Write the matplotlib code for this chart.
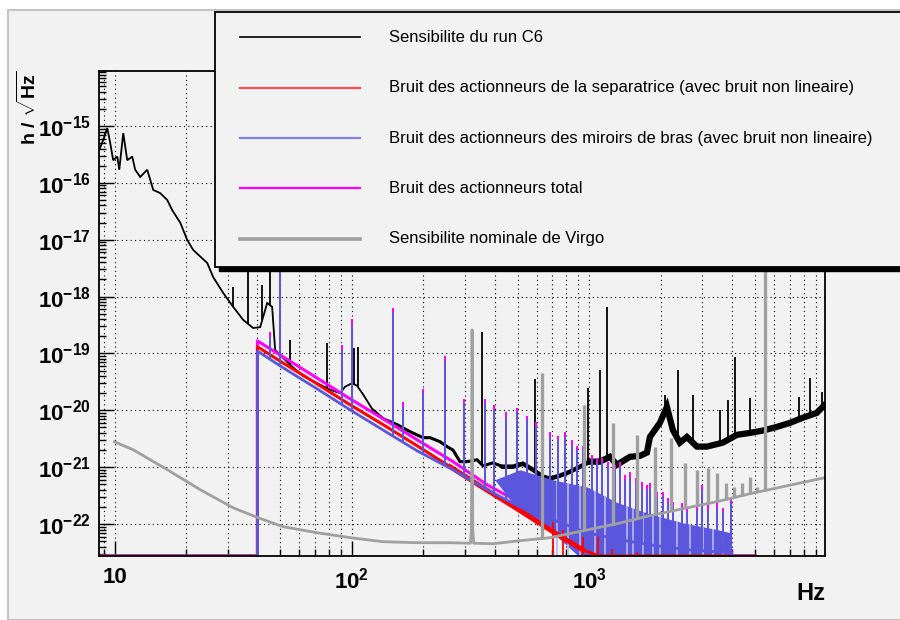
import numpy as np
import matplotlib
matplotlib.use('Agg')
import matplotlib.pyplot as plt
from matplotlib.patches import Rectangle
from matplotlib.lines import Line2D
from matplotlib.ticker import FixedLocator, LogLocator, NullFormatter

plt.rcParams['font.family'] = ['Liberation Sans', 'DejaVu Sans']
plt.rcParams['mathtext.fontset'] = 'custom'
plt.rcParams['mathtext.rm'] = 'Liberation Sans'
plt.rcParams['mathtext.bf'] = 'Liberation Sans:bold'
plt.rcParams['mathtext.it'] = 'Liberation Sans:italic'

# ---- donnees ----
# sensibilite du run C6 (noir)
c6_freq = [8.62, 8.96, 9.32, 9.59, 9.87, 10.27, 10.47, 10.88, 11.31, 11.87,
           12.22, 12.83, 13.73, 14.56, 15.57, 16.67, 17.50, 18.91, 20.24, 21.45,
           24.57, 26.04, 28.69, 31.61, 34.83, 38.37, 41.08, 42.29, 43.96, 46.13,
           47.49, 49.85, 54.93, 62.30, 71.38, 80.93, 89.19, 93.63, 100.2, 105.2,
           111.5, 122.8, 135.3, 155.0, 175.9, 199.5, 213.5, 235.2, 251.7, 266.8,
           285.5, 305.6, 336.7, 356.8, 393.0, 433.0, 477.1, 525.8, 579.4, 638.6,
           683.3, 752.9, 829.6, 914.2, 1007, 1109, 1223, 1308, 1484, 1635,
           1750, 1802, 1985, 2125, 2251, 2409, 2579, 2842, 3131, 3656,
           4188, 4750, 5387, 6170, 7000, 7940, 9095, 9826]
c6_val = [3.8e-16, 5.7e-16, 9.2e-16, 5.0e-16, 2.5e-16, 2.9e-16, 1.7e-16, 7.5e-16, 2.5e-16, 2.9e-16,
          1.7e-16, 1.27e-16, 1.7e-16, 7.5e-17, 6.6e-17, 5.0e-17, 3.3e-17, 2.0e-17, 9.9e-18, 6.6e-18,
          3.9e-18, 2.2e-18, 1.16e-18, 6.6e-19, 3.9e-19, 2.8e-19, 2.9e-19, 4.4e-19, 7.7e-19, 6.6e-19,
          1.16e-19, 9.4e-20, 6.3e-20, 4.0e-20, 3.0e-20, 2.3e-20, 2.0e-20, 2.6e-20, 3.0e-20, 2.7e-20,
          1.9e-20, 1.0e-20, 7.1e-21, 5.6e-21, 4.2e-21, 3.3e-21, 3.3e-21, 2.8e-21, 2.3e-21, 2.0e-21,
          1.25e-21, 1.25e-21, 1.35e-21, 1.06e-21, 1.19e-21, 1.02e-21, 1.02e-21, 1.15e-21, 9.0e-22, 6.8e-22,
          6.3e-22, 7.1e-22, 8.3e-22, 1.02e-21, 1.25e-21, 1.25e-21, 1.52e-21, 1.10e-21, 1.52e-21, 1.58e-21,
          1.8e-21, 3.4e-21, 6.0e-21, 1.15e-20, 4.5e-21, 2.7e-21, 3.4e-21, 2.3e-21, 2.3e-21, 2.7e-21,
          3.7e-21, 4.0e-21, 4.4e-21, 5.1e-21, 6.0e-21, 7.4e-21, 9.0e-21, 1.25e-20]
c6_pk_freq = [31.6, 36.6, 41.9, 45.3, 54.9, 78.6, 102.2, 106, 353, 591, 986, 1109,
              1186, 2080, 2360, 2730, 3548, 3850, 4100, 4750, 7620, 8490, 9530]
c6_pk_top = [1.5e-18, 1e-17, 1.6e-18, 1e-17, 1.73e-19, 1.5e-19, 1.25e-19, 1.3e-19, 2.4e-19, 3.5e-20,
             2.5e-20, 5.2e-20, 6.6e-19, 1.87e-20, 5.2e-20, 1.87e-20, 1.0e-20, 1.5e-20, 8.7e-20,
             1.66e-20, 1.7e-20, 3.7e-20, 2.1e-20]

# actionneurs de la separatrice (rouge)
red_freq = [8.6, 40, 40, 51.3, 71.3, 98.3, 135.3, 188.2, 259, 356.8, 496, 683, 941, 1100, 5000]
red_val = [0, 0, 1.31e-19, 6.8e-20, 2.92e-20, 1.25e-20, 5.6e-21, 2.38e-21, 1.02e-21, 4.35e-22,
           1.86e-22, 7.9e-23, 3.5e-23, 0, 0]
red_pk_freq = [703, 775, 942, 1088, 1246, 1585]
red_pk_top = [1.1e-22, 7.9e-23, 6.0e-23, 7.0e-23, 3.6e-23, 3.2e-23]

# actionneurs des miroirs de bras (bleu)
blue_freq = [8.6, 40, 40, 51.3, 71.3, 98.3, 135.3, 188.2, 266.8, 371, 510.7, 703.5,
             977.9, 1347, 1802, 2655, 3960, 3990, 5000]
blue_val = [0, 0, 1.1e-19, 5.6e-20, 2.39e-20, 1.02e-20, 4.5e-21, 1.94e-21, 9.0e-22,
            4.0e-22, 2.0e-22, 1.19e-22, 7.0e-23, 5.3e-23, 4.3e-23, 3.5e-23, 3.13e-23, 0, 0]
# zone dense des raies au-dela de 400 Hz
blue_mass_freq = [400, 510.7, 703.5, 900, 977.9, 1308, 1802, 2483, 3444, 3960]
blue_mass_top = [6e-22, 9e-22, 6e-22, 4.8e-22, 4.5e-22, 2.4e-22, 1.5e-22, 1.05e-22, 8e-23, 7e-23]
blue_mass_low = [6e-22, 1.6e-22, 7e-23, 0, 0, 0, 0, 0, 0, 0]
blue_gap_freq = [731, 813, 914, 1057, 1164, 1441, 1528, 1683, 1854, 1985, 2340, 2655, 3010, 3319, 3656]

# bruit total (magenta)
mag_freq = [8.6, 40, 40, 51.3, 71.3, 98.3, 135.3, 188.2, 266.8, 371, 510.7, 703.5, 977.9,
            1347, 1802, 2655, 3960, 3990, 5000]
mag_val = [0, 0, 1.66e-19, 8.7e-20, 3.7e-20, 1.59e-20, 7.1e-21, 3.03e-21, 1.25e-21, 4.9e-22,
           2.37e-22, 1.34e-22, 7.9e-23, 5.7e-23, 4.7e-23, 3.8e-23, 3.4e-23, 0, 0]

# raies des actionneurs (bleu = bras, total = magenta)
comb_freq = [45.2, 50, 90.9, 100.2, 149.1, 164.3, 199.5, 246.9, 296.9, 363.8,
             396.9, 446, 496, 546.7, 596.5, 683, 738.3, 790, 845.9, 888,
             942, 1027, 1078, 1131, 1199, 1283, 1347, 1414, 1484, 1573,
             1667, 1750, 1802, 1928, 2043, 2145, 2251, 2457, 2579, 2842,
             2982, 3161, 3444, 3656, 3960]
comb_blue = [1.96e-19, 1e-17, 1.16e-19, 3.3e-19, 5.3e-19, 1.15e-20, 2.0e-20, 7.5e-20, 1.36e-20, 1.36e-20,
             1.02e-20, 7.7e-21, 9.4e-21, 6.8e-21, 5.1e-21, 3.4e-21, 3.0e-21, 3.4e-21, 2.48e-21, 2.0e-21,
             2.0e-21, 1.35e-21, 1.19e-21, 1.19e-21, 1.02e-21, 9.0e-22, 1.02e-21, 6.0e-22, 6.8e-22, 5.3e-22,
             4.5e-22, 4.0e-22, 4.35e-22, 3.0e-22, 3.0e-22, 2.37e-22, 2.0e-22, 1.93e-22, 1.6e-22, 1.78e-22,
             4.0e-22, 1.78e-22, 1.93e-22, 1.6e-22, 2.37e-22]
comb_total = [2.4e-19, 1e-17, 1.4e-19, 4.0e-19, 6.3e-19, 1.4e-20, 2.4e-20, 9e-20, 1.6e-20, 1.6e-20,
              1.25e-20, 9.5e-21, 1.1e-20, 8e-21, 6.2e-21, 4.1e-21, 3.6e-21, 4.1e-21, 3.0e-21, 2.4e-21,
              2.4e-21, 1.65e-21, 1.45e-21, 1.45e-21, 1.25e-21, 1.1e-21, 1.25e-21, 7.3e-22, 8.3e-22, 6.5e-22,
              5.5e-22, 4.9e-22, 5.3e-22, 3.7e-22, 3.7e-22, 2.9e-22, 2.45e-22, 2.35e-22, 1.95e-22, 2.2e-22,
              4.8e-22, 2.2e-22, 2.3e-22, 1.95e-22, 2.8e-22]

# sensibilite nominale de Virgo (gris)
virgo_freq = [10, 12.0, 16.7, 23.0, 31.6, 40.3, 51.3, 71.3, 99, 135, 188, 259, 316, 319, 321,
              323, 326, 393, 510, 683, 942, 1306, 1800, 2483, 3444, 4746, 6531, 9820]
virgo_val = [2.79e-21, 2.02e-21, 9.0e-22, 4.0e-22, 1.93e-22, 1.29e-22, 8.97e-23, 7.03e-23, 5.74e-23,
             4.89e-23, 4.69e-23, 4.69e-23, 4.6e-23, 8e-23, 2.6e-19, 8e-23, 4.6e-23, 4.5e-23, 5.09e-23,
             5.74e-23, 7.62e-23, 1.01e-22, 1.40e-22, 1.86e-22, 2.47e-22, 3.41e-22, 4.53e-22, 6.52e-22]
virgo_pk_freq = [632, 950, 1256, 1585, 1887, 2205, 2523, 2837, 3156, 3444, 3758, 4062, 4391, 4746, 5078, 5490]
virgo_pk_top = [4.6e-20, 1.25e-20, 6.0e-21, 3.7e-21, 2.3e-21, 3.3e-21, 1.19e-21, 9.0e-22, 9.8e-22,
                8.0e-22, 5.3e-22, 4.5e-22, 5.3e-22, 6.8e-22, 4.5e-22, 1e-17]

labels = ['Sensibilite du run C6',
          'Bruit des actionneurs de la separatrice (avec bruit non lineaire)',
          'Bruit des actionneurs des miroirs de bras (avec bruit non lineaire)',
          'Bruit des actionneurs total',
          'Sensibilite nominale de Virgo']

x_ticks = [10, 100, 1000]
x_ticklabels = ['10', r'$\mathbf{10^{2}}$', r'$\mathbf{10^{3}}$']
y_ticks = [1e-15, 1e-16, 1e-17, 1e-18, 1e-19, 1e-20, 1e-21, 1e-22]
y_ticklabels = [r'$\mathbf{10^{-%d}}$' % k for k in range(15, 23)]

# couleurs
C_BLACK = 'black'
C_RED = '#ff0000'
C_BLUE = '#5b57dc'
C_GAP = '#b9b6ee'
C_MAG = '#ff00ff'
C_GREY = '#a0a0a0'
BG = '#f2f2f2'

X_MIN, X_MAX = 8.6, 9850
Y_MIN, Y_MAX = 2.74e-23, 9.27e-15


def clip0(v):
    # les zeros sont dessines sur le bord bas, comme dans ROOT
    return np.clip(np.asarray(v, dtype=float), Y_MIN, None)


def base_of(f_pk, f, v):
    """niveau de la courbe sous chaque raie (interpolation log-log)"""
    return np.exp(np.interp(np.log(f_pk), np.log(f), np.log(clip0(v))))


W, H = 900, 620


def fx(x):
    return x / W


def fy(y):
    return 1 - y / H


fig = plt.figure(figsize=(9, 6.2), dpi=100)
fig.patch.set_facecolor('white')
fig.add_artist(Rectangle((fx(8), 0), 1, fy(10), transform=fig.transFigure,
                         facecolor=BG, edgecolor='#c4c4c4', lw=1.5, zorder=-10))

ax = fig.add_axes([fx(99), fy(556), (825 - 99) / W, (556 - 71) / H])
ax.set_facecolor(BG)
ax.set_xscale('log')
ax.set_yscale('log')
ax.set_xlim(X_MIN, X_MAX)
ax.set_ylim(Y_MIN, Y_MAX)

# noir : sensibilite C6, la bande de bruit s'epaissit vers les hautes frequences
c6_f = np.array(c6_freq)
c6_v = np.array(c6_val)
for fmin, lw in [(0, 1.3), (120, 2.2), (400, 3.2), (1000, 4.5)]:
    m = c6_f >= fmin
    ax.plot(c6_f[m], c6_v[m], color=C_BLACK, lw=lw, zorder=2, solid_joinstyle='miter')
ax.vlines(c6_pk_freq, base_of(c6_pk_freq, c6_freq, c6_val), c6_pk_top,
          color=C_BLACK, lw=1.3, zorder=2)

# magenta : total (sous le bleu)
ax.vlines(comb_freq, base_of(comb_freq, mag_freq, mag_val), comb_total,
          color=C_MAG, lw=1.4, zorder=3)
ax.plot(mag_freq, clip0(mag_val), color=C_MAG, lw=2.2, zorder=3.1)

# bleu : zone dense des raies
ax.fill_between(blue_mass_freq, clip0(blue_mass_low), blue_mass_top, color=C_BLUE, lw=0, zorder=3.3)
ax.vlines(blue_gap_freq, Y_MIN, base_of(blue_gap_freq, blue_mass_freq, blue_mass_top),
          color=C_GAP, lw=1.2, zorder=3.35)

# rouge
red_f = np.array(red_freq)
red_v = clip0(red_val)
ax.plot(red_f, red_v, color=C_RED, lw=2.2, zorder=3.5)
m = (red_f >= 250) & (red_f <= 1000)
ax.plot(red_f[m], red_v[m], color=C_RED, lw=3.5, zorder=3.5)
ax.vlines(red_pk_freq, Y_MIN, red_pk_top, color=C_RED, lw=1.3, zorder=3.5)

# bleu : miroirs de bras
ax.plot(blue_freq, clip0(blue_val), color=C_BLUE, lw=2.0, zorder=4)
ax.vlines(comb_freq, base_of(comb_freq, blue_freq, blue_val), comb_blue,
          color=C_BLUE, lw=1.4, zorder=4)

# gris : Virgo nominal
ax.plot(virgo_freq, virgo_val, color=C_GREY, lw=2.0, zorder=5)
ax.vlines(virgo_pk_freq, base_of(virgo_pk_freq, virgo_freq, virgo_val), virgo_pk_top,
          color=C_GREY, lw=2.4, zorder=5)

# axes
ax.xaxis.set_major_locator(FixedLocator(x_ticks))
ax.xaxis.set_minor_locator(LogLocator(base=10, subs=np.arange(2, 10), numticks=20))
ax.xaxis.set_minor_formatter(NullFormatter())
ax.set_xticklabels(x_ticklabels, fontsize=16, fontweight='bold')
ax.yaxis.set_major_locator(FixedLocator(y_ticks))
ax.yaxis.set_minor_locator(LogLocator(base=10, subs=np.arange(2, 10), numticks=20))
ax.yaxis.set_minor_formatter(NullFormatter())
ax.set_yticklabels(y_ticklabels, fontsize=16, fontweight='bold')
ax.tick_params(which='both', direction='in', top=False, right=False, width=1, colors='black')
ax.tick_params(which='major', length=10.5)
ax.tick_params(which='minor', length=5)
ax.tick_params(axis='x', pad=8)
ax.tick_params(axis='y', pad=6)

ax.grid(which='major', color='black', lw=0.8, ls=(0, (1, 3)))
ax.grid(which='minor', axis='x', color='black', lw=0.8, ls=(0, (1, 3)))
ax.set_axisbelow(True)
for s in ax.spines.values():
    s.set_linewidth(1.3)
    s.set_zorder(6)

fig.text(fx(28), fy(108), r'h / $\sqrt{\mathbf{Hz}}$', rotation=90, fontsize=14,
         fontweight='bold', ha='center', va='center')
fig.text(fx(825), fy(593), 'Hz', fontsize=17, fontweight='bold', ha='right', va='center')

# legende (cadre ROOT avec ombre)
fig.add_artist(Rectangle((fx(219), fy(271)), 700 / W, 255 / H, transform=fig.transFigure,
                         facecolor='black', edgecolor='black', zorder=8))
fig.add_artist(Rectangle((fx(215), fy(267)), 700 / W, 255 / H, transform=fig.transFigure,
                         facecolor=BG, edgecolor='black', lw=1.3, zorder=9))
leg_colors = [C_BLACK, '#f05050', '#8080e0', C_MAG, C_GREY]
leg_widths = [1.2, 1.6, 1.6, 1.6, 2.6]
for i, (lab, col, lw) in enumerate(zip(labels, leg_colors, leg_widths)):
    y = 37 + 50.5 * i
    fig.add_artist(Line2D([fx(240), fx(360)], [fy(y), fy(y)], transform=fig.transFigure,
                          color=col, lw=lw, zorder=10))
    fig.text(fx(389), fy(y), lab, fontsize=12, ha='left', va='center', zorder=10)

fig.savefig('out.png', dpi=100, facecolor=fig.get_facecolor())
